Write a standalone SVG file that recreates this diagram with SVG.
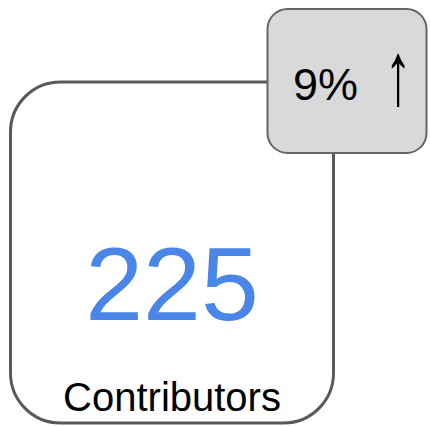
<svg xmlns="http://www.w3.org/2000/svg" width="430" height="426" viewBox="0 0 430 426">
  <style>
    .card { fill: #ffffff; stroke: #595959; stroke-width: 3; }
    .badge { fill: #d9d9d9; stroke: #666666; stroke-width: 2; }
    .lbl { font-family: "Liberation Sans", Arial, sans-serif; fill: #000000; }
    .num { font-family: "Liberation Sans", Arial, sans-serif; fill: #4a86e8; }
  </style>
  <rect width="430" height="426" fill="#ffffff"/>
  <g id="contributors-card">
    <rect class="card" x="10.5" y="82" width="323" height="341" rx="50" ry="50"/>
    <text class="num" x="172" y="320" font-size="104" text-anchor="middle">225</text>
    <text class="lbl" x="172" y="411" font-size="40" text-anchor="middle">Contributors</text>
  </g>
  <g id="change-badge">
    <rect class="badge" x="267.5" y="9" width="159" height="144" rx="20" ry="20"/>
    <text class="lbl" x="293" y="100" font-size="45">9%</text>
    <!-- the up arrow is stretched vertically to the full badge line height -->
    <text class="lbl" transform="translate(398,104) scale(1.2,2)" x="0" y="0" font-size="45" text-anchor="middle">↑</text>
  </g>
</svg>
